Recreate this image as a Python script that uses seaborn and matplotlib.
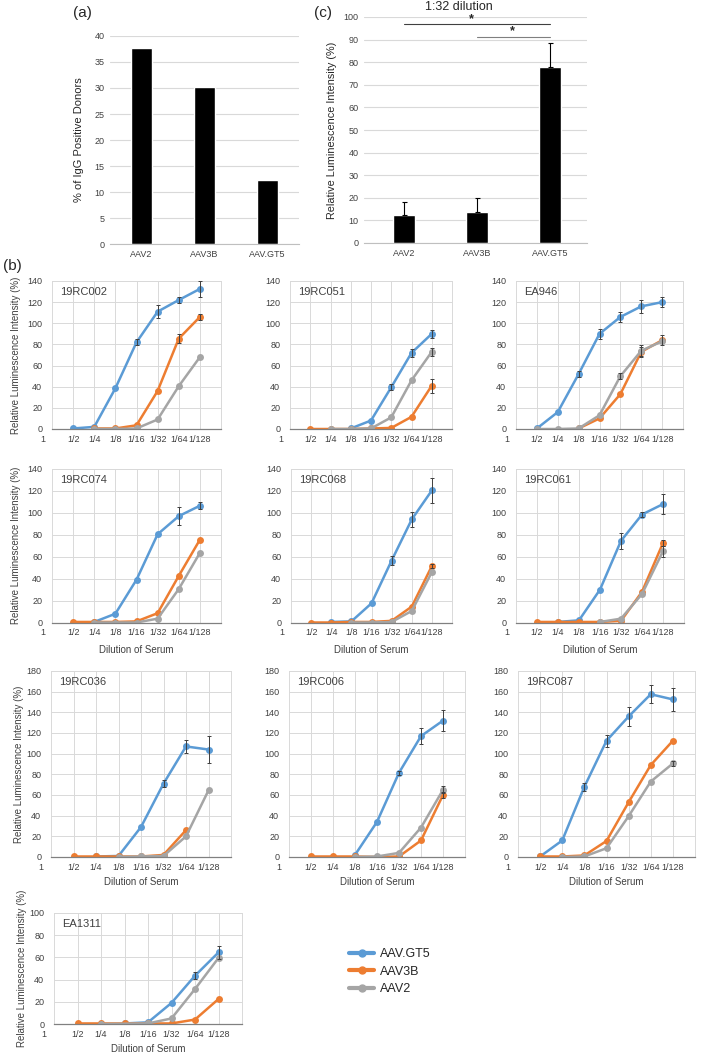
import numpy as np
import pandas as pd
import matplotlib
matplotlib.use("Agg")
import matplotlib.pyplot as plt
from matplotlib.lines import Line2D
import seaborn as sns

nan = np.nan

# ---- panel (a): % IgG positive donors
serotypes_a = ["AAV2", "AAV3B", "AAV.GT5"]
igg_positive = [37.7, 30.2, 12.3]

# ---- panel (c): 1:32 dilution
lum_32 = [12.5, 13.8, 77.7]
lum_32_err = [5.5, 6.0, 11.0]

# ---- panel (b): dilution curves
dilutions = ["1/2", "1/4", "1/8", "1/16", "1/32", "1/64", "1/128"]
donors = ["19RC002", "19RC051", "EA946", "19RC074", "19RC068", "19RC061",
          "19RC036", "19RC006", "19RC087", "EA1311"]
series_names = ["AAV.GT5", "AAV3B", "AAV2"]

gt5 = [
    [0.5, 2, 38.5, 82, 111, 122, 132.5],
    [nan, nan, 0.5, 8, 39.5, 72, 90],
    [0.5, 16, 52, 90, 106, 116, 120],
    [nan, 0.5, 8, 39, 80.5, 97, 106.5],
    [nan, 0.5, 1, 17.5, 56.5, 94, 120.5],
    [nan, 0.5, 2, 30, 74.5, 98.5, 108],
    [nan, 0.5, 1, 29, 71, 107, 104],
    [nan, nan, 2, 34, 81.5, 117, 132],
    [0.5, 16, 68, 112.5, 136, 157.5, 152.5],
    [nan, nan, 0.5, 1.5, 19, 43.5, 64.5],
]
gt5_err = [
    [0, 0, 0, 3, 6, 2.5, 7.5],
    [0, 0, 0, 0, 3, 3.5, 3.5],
    [0, 0, 2.5, 5, 5, 6, 5],
    [0, 0, 0, 0, 0, 8.5, 3],
    [0, 0, 0, 0, 4.5, 7, 11.5],
    [0, 0, 0, 0, 7.5, 2.5, 9],
    [0, 0, 0, 0, 3.5, 6.5, 13],
    [0, 0, 0, 0, 2, 8, 10.5],
    [0, 0, 4, 6, 9.5, 8.5, 11],
    [0, 0, 0, 0, 0, 3, 6],
]
aav3b = [
    [nan, 0.5, 0.5, 3.5, 36, 85.5, 106],
    [0, 0, 0, 0.5, 1, 11.5, 41],
    [nan, nan, 0.5, 10, 33, 73, 84],
    [0.5, 0.5, 0.5, 1, 8.5, 42.5, 75.5],
    [0, 0, 0.5, 0.5, 1.5, 14.5, 51.5],
    [0.5, 0.5, 0.5, 0.5, 1.5, 28, 72.5],
    [0.5, 0.5, 0.5, 0.5, 2, 26, nan],
    [0.5, 0.5, 0.5, 0, 0.5, 16, 60],
    [0.5, 0.5, 1.5, 15.5, 53, 89, 112.5],
    [0.5, 0.5, 0.5, 0.5, 0.5, 4, 22.5],
]
aav3b_err = [
    [0, 0, 0, 0, 0, 4, 3],
    [0, 0, 0, 0, 0, 0, 6.5],
    [0, 0, 0, 0, 0, 5, 5],
    [0, 0, 0, 0, 0, 0, 0],
    [0, 0, 0, 0, 0, 0, 2],
    [0, 0, 0, 0, 0, 0, 3],
    [0, 0, 0, 0, 0, 0, 0],
    [0, 0, 0, 0, 0, 0, 3],
    [0, 0, 0, 0, 0, 0, 0],
    [0, 0, 0, 0, 0, 0, 0],
]
aav2 = [
    [nan, 0, 0, 0.5, 9, 40.5, 68],
    [nan, 0, 0, 0.5, 11, 46, 73],
    [0, 0, 0.5, 13, 50, 74, 83],
    [nan, 0, 0, 0, 3.5, 30.5, 63.5],
    [nan, nan, 0, 0, 0.5, 10.5, 46],
    [nan, nan, nan, 0.5, 3.5, 26, 65],
    [nan, nan, 0, 0.5, 1, 20, 64.5],
    [nan, nan, 0, 0.5, 4, 28.5, 65],
    [nan, 0, 0.5, 8.5, 39.5, 73, 90.5],
    [nan, 0, nan, 0.5, 5, 31.5, 59.5],
]
aav2_err = [
    [0, 0, 0, 0, 0, 0, 0],
    [0, 0, 0, 0, 0, 0, 3.5],
    [0, 0, 0, 0, 3, 5, 0],
    [0, 0, 0, 0, 0, 0, 0],
    [0, 0, 0, 0, 0, 0, 0],
    [0, 0, 0, 0, 0, 0, 5],
    [0, 0, 0, 0, 0, 0, 0],
    [0, 0, 0, 0, 0, 0, 3.5],
    [0, 0, 0, 0, 0, 0, 2],
    [0, 0, 0, 0, 0, 0, 0],
]
y_max = [140, 140, 140, 140, 140, 140, 180, 180, 180, 100]

palette = {"AAV.GT5": "#5B9BD5", "AAV3B": "#ED7D31", "AAV2": "#A5A5A5"}
GRID = "#D9D9D9"
TXT = "#404040"

sns.set_style("white")
plt.rcParams["font.family"] = ["Liberation Sans", "DejaVu Sans"]

W, H = 712, 1057
fig = plt.figure(figsize=(W / 100, H / 100), dpi=100)


def add_ax(left, top, right, bottom):
    return fig.add_axes([left / W, 1 - bottom / H, (right - left) / W, (bottom - top) / H])


# ---------------- panel (a)
ax_a = add_ax(110, 36, 299, 244)
sns.barplot(x=serotypes_a, y=igg_positive, color="black", width=0.32, ax=ax_a)
ax_a.set_ylim(0, 40)
ax_a.set_yticks(range(0, 41, 5))
ax_a.set_xlim(-0.5, 2.5)
ax_a.set_ylabel("% of IgG Positive Donors", fontsize=8)
ax_a.yaxis.set_label_coords((84 - 110) / 189, 0.5)
ax_a.grid(axis="y", color=GRID, lw=0.8)
ax_a.set_axisbelow(True)

# ---------------- panel (c)
ax_c = add_ax(364, 17, 587, 243)
sns.barplot(x=serotypes_a, y=lum_32, color="black", width=0.31, ax=ax_c)
ax_c.errorbar(range(3), lum_32, yerr=[[0, 0, 0], lum_32_err], fmt="none",
              ecolor="black", elinewidth=0.8, capsize=1.8, capthick=0.8)
ax_c.set_ylim(0, 100)
ax_c.set_yticks(range(0, 101, 10))
ax_c.set_xlim(-0.55, 2.51)
ax_c.set_ylabel("Relative Luminescence Intensity (%)", fontsize=7.8)
ax_c.yaxis.set_label_coords((337 - 364) / 223, 0.5)
ax_c.grid(axis="y", color=GRID, lw=0.8)
ax_c.set_axisbelow(True)
ax_c.plot([0, 2], [96.7, 96.7], color=TXT, lw=0.8, clip_on=False)
ax_c.plot([1, 2], [91.1, 91.1], color="#7F7F7F", lw=0.8, clip_on=False)
ax_c.text(0.93, 96.5, "*", ha="center", va="bottom", fontsize=9, fontweight="bold")
ax_c.text(1.49, 90.9, "*", ha="center", va="bottom", fontsize=9, fontweight="bold")

for ax in (ax_a, ax_c):
    for s in ("left", "right", "top"):
        ax.spines[s].set_visible(False)
    ax.spines["bottom"].set_color("#BFBFBF")
    ax.tick_params(axis="y", length=0, pad=4, labelsize=6.5, colors=TXT)
    ax.tick_params(axis="x", length=0, pad=4, labelsize=6.5, colors=TXT)

fig.text(82 / W, 1 - 13 / H, "(a)", fontsize=11, ha="center", va="center")
fig.text(323 / W, 1 - 13 / H, "(c)", fontsize=11, ha="center", va="center")
fig.text(459 / W, 1 - 1 / H, "1:32 dilution", fontsize=9, ha="center", va="top")
fig.text(12 / W, 1 - 266 / H, "(b)", fontsize=11, ha="center", va="center")

# ---------------- panel (b)
rows = [(281, 429), (469, 622.5), (671, 857), (913, 1024)]
cols = [
    [(52, 221), (290, 452), (516, 683)],
    [(52, 221), (291, 452), (516, 684)],
    [(51, 231), (289, 465), (518, 695)],
    [(54, 242)],
]
ylabel_x = [21, 21, 24, 27]
xlabel_pad = [None, 6, 4, 4]

recs = []
for i, d in enumerate(donors):
    for name, vals, errs in ((series_names[0], gt5, gt5_err),
                             (series_names[1], aav3b, aav3b_err),
                             (series_names[2], aav2, aav2_err)):
        for j in range(len(dilutions)):
            recs.append({"donor": d, "serotype": name, "pos": j + 1,
                         "value": vals[i][j], "err": errs[i][j]})
df = pd.DataFrame(recs).dropna(subset=["value"])

k = 0
for r, (top, bottom) in enumerate(rows):
    for c, (left, right) in enumerate(cols[r]):
        donor = donors[k]
        ax = add_ax(left, top, right, bottom)
        sub = df[df["donor"] == donor]
        sns.lineplot(data=sub, x="pos", y="value", hue="serotype",
                     hue_order=series_names, palette=palette, marker="o",
                     markersize=5, markeredgewidth=0, linewidth=1.8,
                     errorbar=None, legend=False, ax=ax)
        for name in series_names:
            s = sub[(sub["serotype"] == name) & (sub["err"] > 0)]
            if len(s):
                ax.errorbar(s["pos"], s["value"], yerr=s["err"], fmt="none",
                            ecolor="#3F3F3F", elinewidth=0.7, capsize=1.6,
                            capthick=0.7, zorder=5)
        ax.set_xlim(0, 8)
        ax.set_ylim(0, y_max[k])
        ax.set_yticks(range(0, y_max[k] + 1, 20))
        ax.set_xticks(range(1, 8))
        ax.set_xticklabels(dilutions)
        ax.grid(True, color=GRID, lw=0.7)
        ax.set_axisbelow(True)
        for s in ("left", "right", "top"):
            ax.spines[s].set_color(GRID)
            ax.spines[s].set_linewidth(0.7)
        ax.spines["bottom"].set_color("#808080")
        ax.spines["bottom"].set_linewidth(0.9)
        ax.tick_params(axis="y", length=0, pad=7, labelsize=6.5, colors=TXT)
        ax.tick_params(axis="x", length=0, pad=4, labelsize=6.5, colors=TXT)
        ax.annotate("1", xy=(-0.45, 0), xycoords=("data", "axes fraction"),
                    xytext=(0, -4), textcoords="offset points", ha="center",
                    va="top", fontsize=6.5, color=TXT, annotation_clip=False)
        ax.annotate(donor, xy=(0, 1), xycoords="axes fraction", xytext=(6, -4),
                    textcoords="offset points", ha="left", va="top", fontsize=8,
                    color=TXT)
        if xlabel_pad[r] is not None:
            ax.set_xlabel("Dilution of Serum", fontsize=7, color=TXT,
                          labelpad=xlabel_pad[r])
        else:
            ax.set_xlabel("")
        if c == 0:
            ax.set_ylabel("Relative Luminescence Intensity (%)", fontsize=7,
                          color=TXT)
            ax.yaxis.set_label_coords((ylabel_x[r] - left) / (right - left), 0.5)
        else:
            ax.set_ylabel("")
        k += 1

handles = [Line2D([0], [0], color=palette[n], lw=3, marker="o", markersize=5)
           for n in series_names]
fig.legend(handles, series_names, loc="upper left",
           bbox_to_anchor=(349 / W, 1 - 948 / H), frameon=False, fontsize=9,
           handlelength=2.0, handletextpad=0.5, labelspacing=0.45,
           borderpad=0, borderaxespad=0)

fig.savefig("out.png", dpi=100)
